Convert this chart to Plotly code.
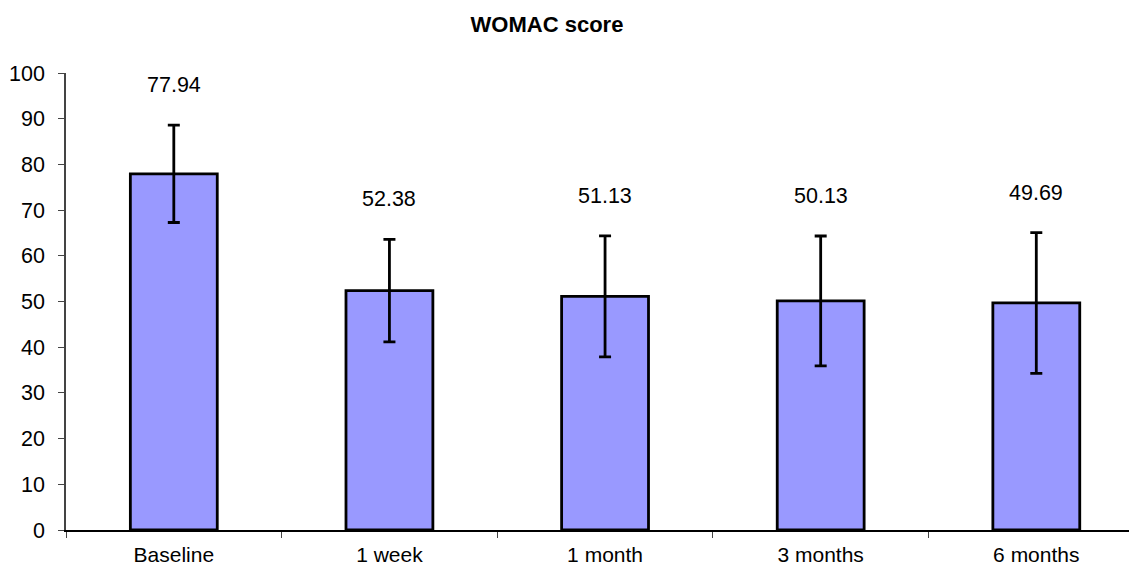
import plotly.graph_objects as go

categories = ["Baseline", "1 week", "1 month", "3 months", "6 months"]
means = [77.94, 52.38, 51.13, 50.13, 49.69]
errors = [10.65, 11.2, 13.25, 14.2, 15.4]
label_texts = ["77.94", "52.38", "51.13", "50.13", "49.69"]
y_ticks = [0, 10, 20, 30, 40, 50, 60, 70, 80, 90, 100]

FONT = "Liberation Sans, Arial, sans-serif"

fig = go.Figure()
fig.add_trace(go.Bar(
    x=categories,
    y=means,
    width=0.403,
    marker=dict(color="#9999FF", line=dict(color="black", width=2.8)),
    error_y=dict(type="data", array=errors, visible=True, color="black",
                 thickness=2.8, width=6),
    showlegend=False,
))

for c, v, e, t in zip(categories, means, errors, label_texts):
    fig.add_annotation(x=c, y=v + e, text=t, showarrow=False, yshift=40,
                       font=dict(family=FONT, size=21.5, color="black"))

fig.update_layout(
    width=1129, height=558,
    margin=dict(l=58, r=0, t=65, b=36, autoexpand=False),
    paper_bgcolor="white", plot_bgcolor="white",
    title=dict(text="<b>WOMAC score</b>", x=0.4774, xanchor="center",
               y=0.9713, yanchor="middle",
               font=dict(family=FONT, size=22, color="black")),
    font=dict(family=FONT, size=21, color="black"),
    bargap=0.6,
)
fig.update_xaxes(
    type="category", range=[-0.5, 4.467], automargin=False,
    showline=True, linecolor="black", linewidth=1.5,
    ticks="outside", tickson="boundaries", ticklen=6, tickcolor="#444444",
    ticklabelstandoff=5,
    tickfont=dict(family=FONT, size=21, color="black"),
    showgrid=False, zeroline=False,
)
fig.update_yaxes(
    range=[0, 100], tickvals=y_ticks, automargin=False,
    showline=True, linecolor="#444444", linewidth=1.5,
    ticks="outside", ticklen=6, tickcolor="#444444",
    ticklabelstandoff=9,
    tickfont=dict(family=FONT, size=21.5, color="black"),
    showgrid=False, zeroline=False,
)

fig.write_html("out.html")
